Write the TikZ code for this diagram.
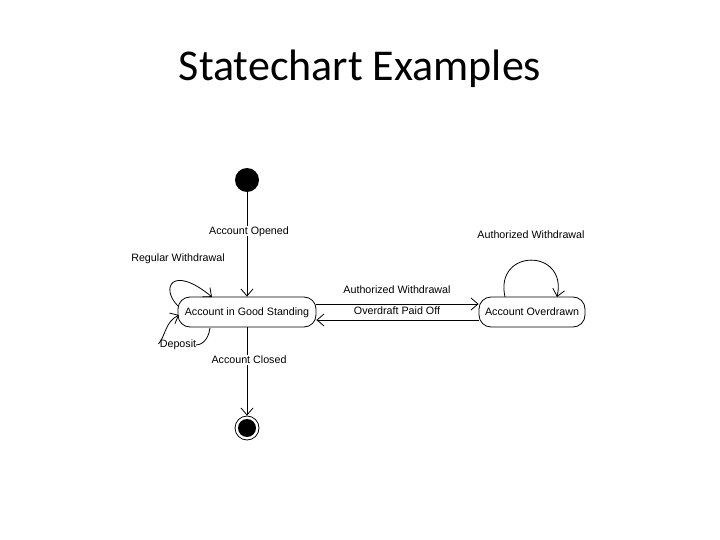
\documentclass[tikz,border=0pt]{standalone}
\usepackage{fontspec}
\setmainfont{Liberation Sans}
\newfontfamily\titlefont{Carlito}
\usetikzlibrary{arrows.meta}
\begin{document}
\begin{tikzpicture}[x=1pt,y=-1pt,
  every path/.style={line width=0.8pt},
  state/.style={draw, rounded corners=12pt, minimum height=30pt, inner xsep=6pt, text depth=0pt, font=\fontsize{10.7}{12}\selectfont},
  lbl/.style={font=\fontsize{10.7}{12}\selectfont, inner sep=1pt, text depth=0pt},
  wlbl/.style={lbl, fill=white},
  arr/.style={-{Straight Barb[length=7pt,width=12pt,line width=0.8pt]}}]
\useasboundingbox (0,0) rectangle (720,540);
\node[font=\titlefont\fontsize{44}{52}\selectfont] (title) at (360,69) {Statechart Examples};
\node[circle, fill=black, minimum size=24pt, inner sep=0pt] (init) at (247,180) {};
\node[state, minimum width=138pt] (good) at (247,312) {Account in Good Standing};
\node[state, minimum width=106pt] (over) at (532,312) {Account Overdrawn};
\node[circle, draw, minimum size=24pt, inner sep=0pt] (final) at (247,428) {};
\node[circle, fill=black, minimum size=18pt, inner sep=0pt] (finalin) at (247,428) {};
% initial -> good
\draw[arr] (init) -- (good);
\node[wlbl] (lopen) at (249,231) {Account Opened};
% good -> final
\draw[arr] (good) -- (final);
\node[wlbl] (lclose) at (249,360) {Account Closed};
% good <-> over
\draw[arr] (good.east |- 0,304) -- (over.west |- 0,304);
\node[lbl] (law) at (397,290) {Authorized Withdrawal};
\draw[arr] (over.west |- 0,320) -- (good.east |- 0,320);
\node[lbl] (lpaid) at (397,311) {Overdraft Paid Off};
% self loop on overdrawn
\coordinate (o1) at (505,297);
\coordinate (o2) at (557,297);
\draw[arr] (o1) .. controls (494,248) and (568,248) .. (o2);
\node[lbl] (law2) at (531,235) {Authorized Withdrawal};
% self loops on good standing
\node[lbl] (lreg) at (178,258) {Regular Withdrawal};
\coordinate (g1) at (178,306);
\coordinate (g2) at (212,297);
\draw[arr] (g1) .. controls (160,288) and (172,264) .. (g2);
\node[wlbl] (ldep) at (178,344) {Deposit};
\coordinate (g3) at (210,328);
\coordinate (g4) at (179,315);
\draw (g3) .. controls (208,342) and (200,345) .. (196,345);
\draw[arr] (ldep.west) .. controls (166,335) and (165,322) .. (g4);
\end{tikzpicture}
\end{document}
